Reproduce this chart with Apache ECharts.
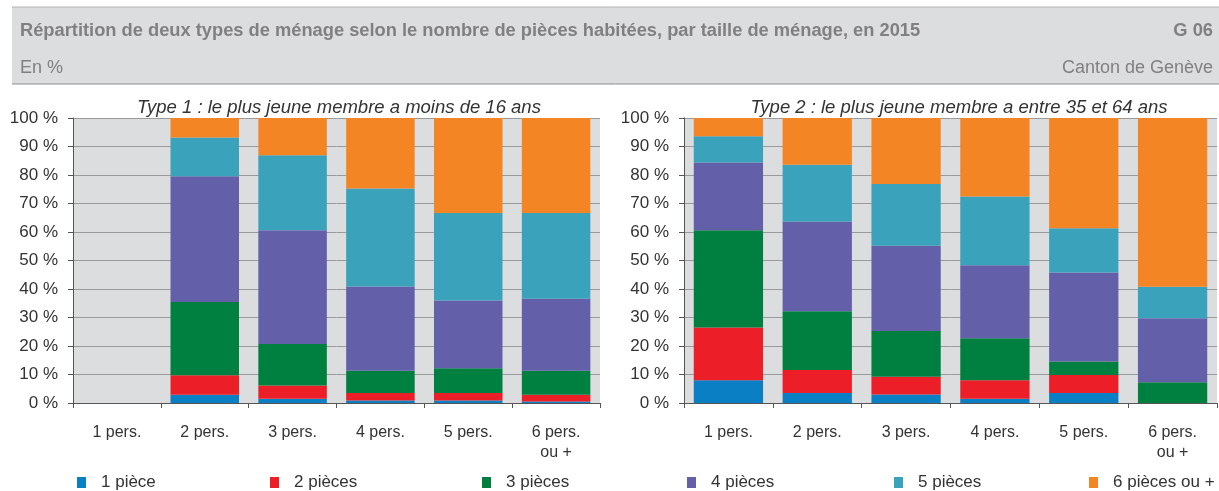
<!DOCTYPE html>
<html>
<head>
<meta charset="utf-8">
<script src="https://cdn.jsdelivr.net/npm/echarts@6/dist/echarts.min.js"></script>
<style>
  html, body { margin: 0; padding: 0; background: #fff; }
  #chart { width: 1219px; height: 491px; }
</style>
</head>
<body>
<div id="chart"></div>
<script>
// categories (taille du ménage) and legend names (nombre de pièces)
var categories = ['1 pers.', '2 pers.', '3 pers.', '4 pers.', '5 pers.', '6 pers.\nou +'];
var pieces = ['1 pièce', '2 pièces', '3 pièces', '4 pièces', '5 pièces', '6 pièces ou +'];
var colors = ['#0a7fc4', '#ec1e28', '#008040', '#645fa9', '#3ba2bb', '#f48524'];

// Type 1 : le plus jeune membre a moins de 16 ans (en %)
var t1Piece1 = [null, 2.9, 1.5, 0.9, 0.9, 0.5];
var t1Piece2 = [null, 6.8, 4.6, 2.6, 2.6, 2.4];
var t1Piece3 = [null, 25.7, 14.6, 7.8, 8.7, 8.4];
var t1Piece4 = [null, 44.2, 39.9, 29.6, 23.8, 25.3];
var t1Piece5 = [null, 13.6, 26.3, 34.4, 30.7, 30.1];
var t1Piece6 = [null, 6.8, 13.1, 24.7, 33.3, 33.3];

// Type 2 : le plus jeune membre a entre 35 et 64 ans (en %)
var t2Piece1 = [8.0, 3.5, 3.0, 1.5, 3.5, 0];
var t2Piece2 = [18.5, 8.1, 6.2, 6.5, 6.3, 0];
var t2Piece3 = [34.1, 20.6, 16.1, 14.7, 4.8, 7.3];
var t2Piece4 = [23.8, 31.5, 29.9, 25.6, 31.2, 22.4];
var t2Piece5 = [9.2, 19.9, 21.6, 24.2, 15.5, 11.1];
var t2Piece6 = [6.4, 16.4, 23.2, 27.5, 38.7, 59.2];

var type1 = [t1Piece1, t1Piece2, t1Piece3, t1Piece4, t1Piece5, t1Piece6];
var type2 = [t2Piece1, t2Piece2, t2Piece3, t2Piece4, t2Piece5, t2Piece6];

var font = '"Liberation Sans", Arial, sans-serif';
var chart = echarts.init(document.getElementById('chart'));

var grids = [
    {left: 73, right: 619, top: 118, bottom: 88, show: true, backgroundColor: '#dcdddf', borderWidth: 0},
    {left: 684, right: 2, top: 118, bottom: 88, show: true, backgroundColor: '#dcdddf', borderWidth: 0}
];

function xAxis(i) {
    return {
        type: 'category', gridIndex: i, data: categories,
        axisLine: {lineStyle: {color: '#555', width: 1}},
        axisTick: {show: true, length: 5, interval: 0, lineStyle: {color: '#555'}},
        axisLabel: {interval: 0, margin: 20, fontFamily: font, fontSize: 16, color: '#333', lineHeight: 20}
    };
}
function yAxis(i) {
    return {
        type: 'value', gridIndex: i, min: 0, max: 100, interval: 10,
        axisLine: {show: true, lineStyle: {color: '#555', width: 1}},
        axisTick: {show: true, length: 5, lineStyle: {color: '#555'}},
        axisLabel: {formatter: '{value} %', margin: 15, fontFamily: font, fontSize: 17, color: '#333'},
        splitLine: {lineStyle: {color: '#9a9a9a', width: 1}}
    };
}

var series = [];
[type1, type2].forEach(function (data, g) {
    data.forEach(function (vals, k) {
        series.push({
            name: pieces[k], type: 'bar', stack: 'g' + g,
            xAxisIndex: g, yAxisIndex: g,
            barCategoryGap: '22%',
            itemStyle: {color: colors[k]},
            data: vals
        });
    });
});

// une légende par élément, positions fixes comme dans l'original
var legendX = [72, 265, 477, 682, 889, 1084];
var legends = pieces.map(function (p, k) {
    return {
        data: [p], left: legendX[k], top: 469, itemWidth: 9, itemHeight: 11,
        icon: 'rect', selectedMode: false,
        textStyle: {fontFamily: font, fontSize: 17, color: '#333', padding: [0, 0, 0, 10]}
    };
});

var option = {
    backgroundColor: '#fff',
    animation: false,
    color: colors,
    graphic: [
        {type: 'rect', shape: {x: 12, y: 7, width: 1207, height: 77}, style: {fill: '#dcdddf'}},
        {type: 'line', shape: {x1: 12, y1: 7, x2: 1219, y2: 7}, style: {stroke: '#b4b4b4', lineWidth: 1}},
        {type: 'line', shape: {x1: 12, y1: 84, x2: 1219, y2: 84}, style: {stroke: '#8c8c8c', lineWidth: 1}}
    ],
    title: [
        {text: 'Répartition de deux types de ménage selon le nombre de pièces habitées, par taille de ménage, en 2015',
         left: 20, top: 22, padding: 0,
         textStyle: {fontFamily: font, fontSize: 18.3, fontWeight: 'bold', color: '#808080'}},
        {text: 'G 06', right: 6, top: 22, padding: 0,
         textStyle: {fontFamily: font, fontSize: 18.3, fontWeight: 'bold', color: '#808080'}},
        {text: 'En %', left: 20, top: 59, padding: 0,
         textStyle: {fontFamily: font, fontSize: 18, fontWeight: 'normal', color: '#808080'}},
        {text: 'Canton de Genève', right: 6, top: 59, padding: 0,
         textStyle: {fontFamily: font, fontSize: 18, fontWeight: 'normal', color: '#808080'}},
        {text: 'Type 1 : le plus jeune membre a moins de 16 ans', left: 339, top: 98, padding: 0, textAlign: 'center',
         textStyle: {fontFamily: font, fontSize: 18.5, fontStyle: 'italic', fontWeight: 'normal', color: '#333'}},
        {text: 'Type 2 : le plus jeune membre a entre 35 et 64 ans', left: 959, top: 98, padding: 0, textAlign: 'center',
         textStyle: {fontFamily: font, fontSize: 18.5, fontStyle: 'italic', fontWeight: 'normal', color: '#333'}}
    ],
    legend: legends,
    grid: grids,
    xAxis: [xAxis(0), xAxis(1)],
    yAxis: [yAxis(0), yAxis(1)],
    series: series
};

chart.setOption(option);
window.onresize = function () {
    chart.resize();
};
</script>
</body>
</html>
